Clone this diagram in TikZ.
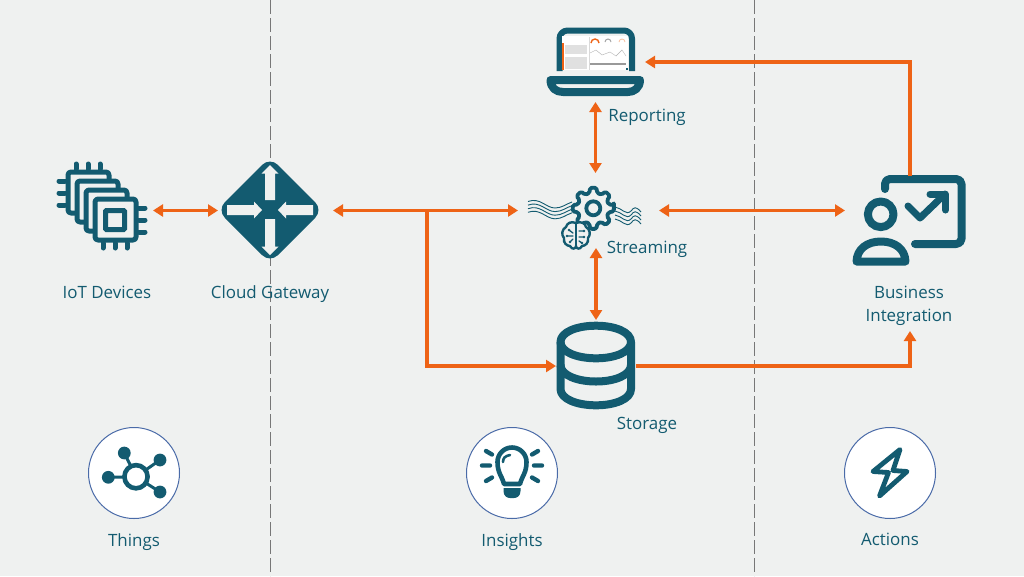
\documentclass[tikz,border=0pt]{standalone}
\usepackage{fontspec}
\setmainfont{Open Sans}
\usetikzlibrary{arrows.meta,calc}
\definecolor{bgc}{HTML}{EFF1F0}
\definecolor{teal}{HTML}{135B70}
\definecolor{org}{HTML}{EE6316}
\definecolor{ring}{HTML}{4A6BA8}
\definecolor{dash}{HTML}{777777}
\def\px{0.75pt}
\tikzset{
  box/.style={inner sep=0pt,outer sep=0pt,minimum width=#1*\px},
  conn/.style={draw=org,line width=3.6*\px,line join=miter},
  both/.style={conn,{Triangle[length=10*\px,width=12*\px]}-{Triangle[length=10*\px,width=12*\px]}},
  one/.style={conn,-{Triangle[length=10*\px,width=12*\px]}},
  lab/.style={text=teal,font=\fontsize{12.7pt}{17.2pt}\selectfont,inner sep=0pt,anchor=base},
  ico/.style={draw=teal,line cap=round,line join=round,line width=#1*\px},
  ico/.default=4,
  badge/.style={circle,draw=ring,fill=white,line width=1*\px,minimum size=91*\px,inner sep=0pt},
  sep/.style={draw=dash,line width=1*\px,dash pattern=on 10.5pt off 3pt},
}
\begin{document}
\begin{tikzpicture}[x=0.75pt,y=-0.75pt]
\useasboundingbox (0,0) rectangle (1024,576);
\fill[bgc] (0,0) rectangle (1024,576);
% separators
\coordinate (s1t) at (270,0); \coordinate (s1b) at (270,576);
\coordinate (s2t) at (754,0); \coordinate (s2b) at (754,576);
\draw[sep] (s1t) -- (s1b);
\draw[sep] (s2t) -- (s2b);

% anchor boxes
\node[box=96,minimum height=90*\px] (iot) at (105,210.5) {};
\node[box=115,minimum height=98*\px] (gw) at (275.5,210.5) {};
\node[box=99,minimum height=80*\px] (report) at (595.5,62) {};
\node[box=141,minimum height=75*\px] (stream) at (588.5,210.5) {};
\node[box=80,minimum height=92*\px] (store) at (596,366) {};
\node[box=130,minimum height=155*\px] (biz) at (910,253.5) {};
\coordinate (j) at (427,210.5);

% --- IoT chips
\foreach \o in {27,18,9,0}{
  \draw[ico=5,fill=bgc,rounded corners=3*\px] (95-\o,199-\o) rectangle (136-\o,240-\o);
}
\foreach \v in {103,115,127}{
  \draw[ico=5] (\v,243) -- (\v,248);
  \draw[ico=5] (\v-27,164) -- (\v-27,169);
}
\foreach \v in {208,220,232}{
  \draw[ico=5] (139,\v) -- (145,\v);
  \draw[ico=5] (59,\v-27) -- (65,\v-27);
}
\draw[ico=5,line join=miter,rounded corners=1*\px] (105.5,210.5) rectangle (124.5,229.5);

% --- Gateway
\fill[teal,rounded corners=11*\px] (270,157) -- (323,210) -- (270,263) -- (217,210) -- cycle;
\fill[bgc] (270,165) -- (278.5,173.5) -- (275,173.5) -- (275,200) -- (265,200) -- (265,173.5) -- (261.5,173.5) -- cycle;
\fill[bgc] (270,255) -- (278.5,246.5) -- (275,246.5) -- (275,219) -- (265,219) -- (265,246.5) -- (261.5,246.5) -- cycle;
\fill[bgc] (262,210) -- (254,201.5) -- (254,205) -- (227,205) -- (227,215) -- (254,215) -- (254,218.5) -- cycle;
\fill[bgc] (278,210) -- (286,201.5) -- (286,205) -- (313,205) -- (313,215) -- (286,215) -- (286,218.5) -- cycle;

% --- Laptop
\draw[ico=6,line cap=butt,rounded corners=8*\px] (559.5,71) -- (559.5,30.5) -- (632,30.5) -- (632,71);
\fill[white] (562,36) rectangle (628,70);
\fill[org] (562,43) rectangle (563.6,70);
\fill[black!12] (565,45) rectangle (587,54);
\fill[black!12] (565,57) rectangle (587,69);
\draw[org,line width=1.4*\px] (591,43) arc (180:360:4);
\draw[black!35,line width=1*\px] (605,42) arc (180:360:3);
\draw[org!40,line width=0.8*\px] (619,42) arc (180:360:3);
\draw[black!30,line width=0.4*\px] (590,53) -- (596,50) -- (602,55) -- (610,52) -- (616,56) -- (622,50) -- (626,56);
\draw[black!40,line width=1.4*\px] (590,64) -- (626,64);
\draw[black!15,line width=0.4*\px] (589,37) -- (589,70);
\fill[teal] (626,68) rectangle (628,70);
\draw[ico=8,fill=bgc,line cap=butt,line join=round] (550.5,80) -- (640,80) .. controls (640,88) and (634,92) .. (628,92) -- (563,92) .. controls (556,92) and (550.5,88) .. (550.5,80) -- cycle;

% --- Streaming
\foreach \d in {0,1,2,3}{
  \draw[teal,line width=0.9*\px] (528,201.5+3.6*\d) .. controls (540,197+3.6*\d) and (546,208+3.6*\d) .. (555,208+3.6*\d) .. controls (562,208+3.6*\d) and (566,204+3.6*\d) .. (572,202+3.6*\d);
  \draw[teal,line width=0.9*\px] (615,207+4*\d) .. controls (622,208+4*\d) and (626,216+4*\d) .. (631,211+4*\d) .. controls (634,207+4*\d) and (636,206+4*\d) .. (641,212+4*\d);
}
\begin{scope}[shift={(593.3,208.3)}]
  \draw[ico=3.8,fill=bgc,rounded corners=1.6*\px] (-9:20.8)
    \foreach \a in {0,45,...,315}{ -- (\a-9:20.8) -- (\a+9:20.8) -- (\a+14:15.8) -- (\a+31:15.8) } -- cycle;
  \draw[ico=3.8] (0,0) circle[radius=7];
\end{scope}
\begin{scope}[shift={(576,236)}]
  \draw[ico=2.4,fill=bgc] (0,-13) .. controls (-5,-15) and (-9,-13) .. (-10,-9) .. controls (-14,-7) and (-15,-1) .. (-12,2)
     .. controls (-13,7) and (-9,10) .. (-6,10) .. controls (-4,14) and (0,13) .. (0,10)
     .. controls (0,13) and (4,14) .. (6,10) .. controls (9,10) and (13,7) .. (12,2)
     .. controls (15,-1) and (14,-7) .. (10,-9) .. controls (9,-13) and (5,-15) .. (0,-13) -- cycle;
  \draw[ico=1.8] (0,-13) -- (0,10);
  \draw[ico=1.3] (-7,-6) -- (-3,-3) (-9,0) -- (-3,0) (-6,6) -- (-3,3) (3,-5) -- (8,-5) (3,1) -- (8,1) (3,5) -- (6,7);
  \foreach \p in {(-7,-6),(-9,0),(-6,6),(8,-5),(8,1),(6,7)}{ \fill[teal] \p circle[radius=1.3]; }
\end{scope}

% --- Business
\draw[ico=8] (885,189) -- (885,184) .. controls (885,181) and (887,179) .. (890,179) -- (956,179) .. controls (959,179) and (961.5,181) .. (961.5,184) -- (961.5,239) .. controls (961.5,242) and (959,244) .. (956,244) -- (915,244);
\draw[ico=7] (908,206) -- (920,218) -- (945,194);
\draw[ico=7] (930,194) -- (945.5,194) -- (945.5,210);
\draw[ico=8] (880.7,214.3) circle[radius=12.8];
\draw[ico=8] (856.5,261.5) .. controls (857,249) and (867,241.5) .. (881,241.5) .. controls (895,241.5) and (905,249) .. (905.5,261.5) -- cycle;

% --- Storage
\draw[ico=8,line cap=butt] (560.5,342) .. controls (560.5,332) and (577,325.7) .. (596,325.7) .. controls (615,325.7) and (631,332) .. (631,342) .. controls (631,352) and (615,358.3) .. (596,358.3) .. controls (577,358.3) and (560.5,352) .. (560.5,342) -- cycle;
\draw[ico=8,line cap=butt] (560.5,342) -- (560.5,389) .. controls (560.5,399) and (577,405.3) .. (596,405.3) .. controls (615,405.3) and (631,399) .. (631,389) -- (631,342);
\draw[ico=8,line cap=butt] (560.5,365) .. controls (560.5,375) and (577,381.5) .. (596,381.5) .. controls (615,381.5) and (631,375) .. (631,365);

% --- connectors
\draw[both] (iot.east) -- (gw.west);
\draw[both] (gw.east) -- (stream.west);
\draw[one] (j) |- (store.west);
\draw[both] (report.south) -- (report.south |- stream.north);
\draw[both] (store.north |- stream.south) -- (store.north);
\draw[both] (stream.east) -- (stream.east -| biz.west);
\draw[one] (store.east) -| (biz.south);
\draw[one] (biz.north) |- (report.east);

% --- labels
\node[lab] (liot) at (107,298) {IoT Devices};
\node[lab] (lgw) at (270,298) {Cloud Gateway};
\node[lab] (lrep) at (647,121) {Reporting};
\node[lab] (lstr) at (647,253) {Streaming};
\node[lab] (lsto) at (647,429) {Storage};
\node[lab] (lbiz) at (909,298) {Business};
\node[lab] (lbiz2) at (909,321) {Integration};
\node[lab] (lth) at (134,546) {Things};
\node[lab] (lin) at (512,546) {Insights};
\node[lab] (lac) at (890,545) {Actions};

% --- badges
\node[badge] (bth) at (134,473) {};
\node[badge] (bin) at (512,473) {};
\node[badge] (bac) at (890,473) {};
% Things
\foreach \x/\y in {124.3/453,160/460,160/492,108.3/477.3}{
  \fill[teal] (\x,\y) circle[radius=6.4];
  \draw[teal,line width=3*\px] (136,476.7) -- (\x,\y);
}
\draw[ico=4.6,fill=white] (136,476.7) circle[radius=11.6];
% Insights
\draw[ico=4.6] (504,484) .. controls (502,476) and (497.5,473) .. (497.5,462) .. controls (497.5,454) and (504,447.5) .. (512,447.5) .. controls (520,447.5) and (526.5,454) .. (526.5,462) .. controls (526.5,473) and (522,476) .. (520,484) -- cycle;
\draw[ico=2.6] (503,462) .. controls (503,458) and (505,456) .. (510,455);
\fill[teal] (503.5,488) -- (520.5,488) -- (520.5,491) .. controls (520.5,496) and (517,498) .. (514,498) -- (510,498) .. controls (507,498) and (503.5,496) .. (503.5,491) -- cycle;
\draw[ico=4.4] (486,451) -- (492,454.5) (482,465.5) -- (490,465.5) (486,481) -- (492,477.5)
               (538,451) -- (532,454.5) (542,465.5) -- (534,465.5) (538,481) -- (532,477.5);
% Actions
\draw[ico=4.8] (900,449.5) -- (873,471.5) -- (888.5,472.5) -- (879.5,496) -- (907,471.5) -- (893,470.5) -- cycle;
\end{tikzpicture}
\end{document}
